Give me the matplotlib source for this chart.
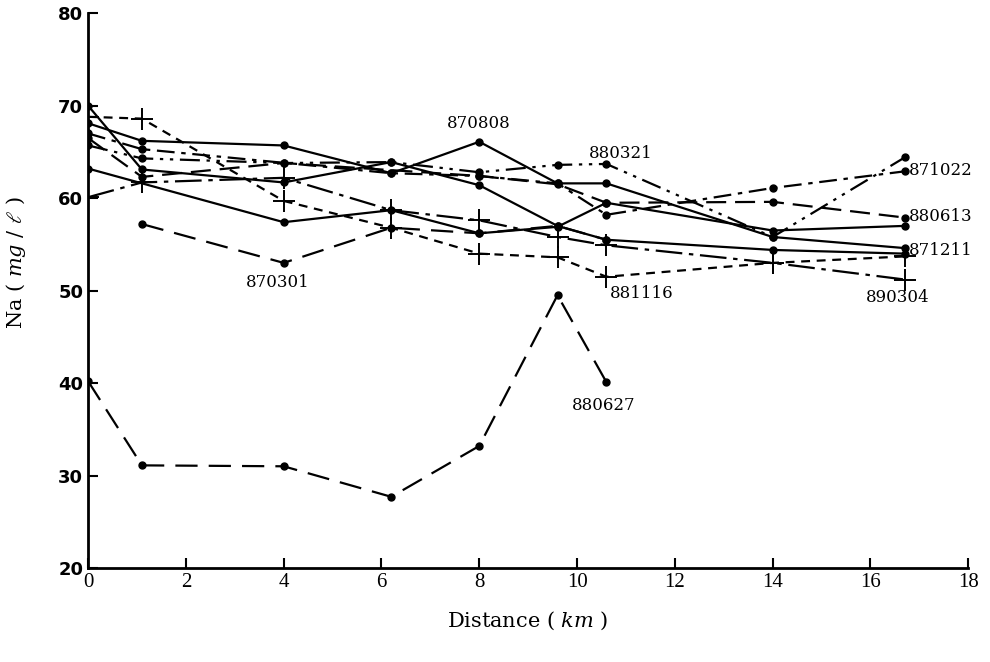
import matplotlib
matplotlib.use('Agg')
import matplotlib.pyplot as plt
import numpy as np

# distances of the sampling stations (km)
st = [0, 1.1, 4, 6.2, 8, 9.6, 10.6, 14, 16.7]
st_no11 = [0, 4, 6.2, 8, 9.6, 10.6, 14, 16.7]

# Na values (mg/l)
na_870808 = [68.1, 66.2, 65.7, 62.7, 66.1, 61.6, 61.6, 55.8, 54.6]
na_solid2 = [70.0, 63.1, 61.7, 63.9, 61.4, 57.0, 55.5, 54.4, 54.0]
na_solid3 = [63.2, 57.4, 58.7, 56.2, 56.9, 59.5, 56.5, 57.0]
na_880321 = [65.7, 64.3, 63.8, 63.9, 62.8, 63.6, 63.7, 55.8, 64.4]
x_871022 = [0, 1.1, 6.2, 8, 9.6, 10.6, 14, 16.7]
na_871022 = [67.0, 65.3, 62.7, 62.4, 61.6, 58.2, 61.1, 62.9]
x_880613 = [0, 1.1, 4, 8, 9.6, 10.6, 14, 16.7]
na_880613 = [66.5, 62.3, 63.8, 62.4, 61.5, 59.5, 59.6, 57.9]
x_870301 = [1.1, 4, 6.2, 8, 9.6, 10.6]
na_870301 = [57.2, 53.0, 56.8, 56.2, 57.0, 55.5]
na_881116 = [68.8, 68.6, 59.7, 56.8, 54.0, 53.6, 51.5, 53.0, 53.7]
na_890304 = [60.1, 61.7, 62.2, 58.7, 57.6, 55.8, 54.9, 53.0, 51.2]
x_880627 = [0, 1.1, 4, 6.2, 8, 9.6, 10.6]
na_880627 = [40.2, 31.1, 31.0, 27.7, 33.2, 49.5, 40.1]

labels = ['870808', '880321', '871022', '880613', '871211',
          '890304', '881116', '870301', '880627']
label_x = [7.98, 10.9, 16.78, 16.78, 16.78, 16.55, 10.68, 3.87, 10.55]
label_y = [68.1, 64.8, 63.0, 58.0, 54.3, 49.3, 49.7, 50.9, 37.6]
label_ha = ['center', 'center', 'left', 'left', 'left', 'center', 'left', 'center', 'center']

plt.rcParams['mathtext.fontset'] = 'dejavuserif'

fig = plt.figure(figsize=(9.9, 6.62), dpi=100)
ax = fig.add_axes([0.089, 0.142, 0.889, 0.838])

k = 'black'
lw = 1.6
dot = dict(marker='o', ms=5, color=k, lw=lw)
cross = dict(marker='+', ms=16, mew=1.4, color=k, lw=lw)

ax.plot(st, na_870808, ls='-', **dot)
ax.plot(st, na_solid2, ls='-', **dot)
ax.plot(st_no11, na_solid3, ls='-', **dot)
ax.plot(st, na_880321, ls=(0, (9, 3, 1.5, 3, 1.5, 3)), **dot)
ax.plot(x_871022, na_871022, ls=(0, (8, 3, 2, 3)), **dot)
ax.plot(x_880613, na_880613, ls=(0, (9, 4)), **dot)
ax.plot(x_870301, na_870301, ls=(0, (10, 5)), **dot)
ax.plot(st, na_881116, ls=(0, (4, 3)), **cross)
ax.plot(st, na_890304, ls=(0, (12, 3, 2, 3)), **cross)
ax.plot(x_880627, na_880627, ls=(0, (10, 5)), **dot)

for t, x, y, ha in zip(labels, label_x, label_y, label_ha):
    ax.text(x, y, t, ha=ha, va='center', fontsize=12, family='DejaVu Serif')

ax.set_xlim(0, 18)
ax.set_ylim(20, 80)
ax.set_xticks(np.arange(0, 19, 2))
ax.set_yticks(np.arange(20, 81, 10))
ax.spines['top'].set_visible(False)
ax.spines['right'].set_visible(False)
ax.spines['left'].set_linewidth(2)
ax.spines['bottom'].set_linewidth(2)
ax.tick_params(direction='in', length=7, width=1.5, labelsize=13)
for lab in ax.get_yticklabels():
    lab.set_fontweight('bold')
    lab.set_family('DejaVu Sans')
for lab in ax.get_xticklabels():
    lab.set_family('Liberation Serif')
    lab.set_fontsize(15)

ax.set_xlabel(r'Distance ( $\mathit{km}$ )', fontsize=15, family='DejaVu Serif')
ax.xaxis.set_label_coords(0.5, -0.075)
ax.set_ylabel(r'Na ( $\mathit{mg}$ / $\ell$ )', fontsize=15, family='DejaVu Serif')
ax.yaxis.set_label_coords(-0.068, 0.55)

plt.savefig('out.png', dpi=100)
